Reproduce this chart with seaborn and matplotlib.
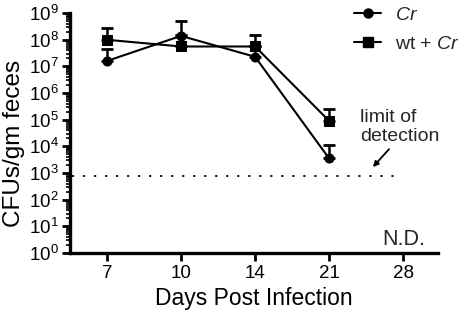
import matplotlib
matplotlib.use("Agg")
import matplotlib.pyplot as plt
import seaborn as sns
import pandas as pd
import numpy as np
from matplotlib.lines import Line2D

days = ["7", "10", "14", "21", "28"]
cr_days = ["7", "10", "14", "21"]
cr_mean = [1.6e7, 1.4e8, 2.3e7, 3.5e3]
cr_upper = [4.4e7, 5.0e8, 6.0e7, 1.1e4]
wt_days = ["7", "10", "14", "21"]
wt_mean = [1.0e8, 5.6e7, 5.6e7, 9.0e4]
wt_upper = [2.7e8, 1.5e8, 1.5e8, 2.5e5]
limit_of_detection = 8e2
series_names = ["Cr", "wt + Cr"]

sns.set_theme(style="ticks")
plt.rcParams['font.family'] = ['Liberation Sans', 'DejaVu Sans']
plt.rcParams['mathtext.fontset'] = 'custom'
plt.rcParams['mathtext.it'] = 'Liberation Sans:italic'
plt.rcParams['mathtext.rm'] = 'Liberation Sans'

fig = plt.figure(figsize=(4.66, 3.13), dpi=100)
ax = fig.add_axes([0.150, 0.192, 0.790, 0.766])

pos = {d: i for i, d in enumerate(days)}
df = pd.DataFrame({
    "x": [pos[d] for d in cr_days] + [pos[d] for d in wt_days],
    "y": cr_mean + wt_mean,
    "upper": cr_upper + wt_upper,
    "series": [series_names[0]] * len(cr_days) + [series_names[1]] * len(wt_days),
})

sns.lineplot(data=df, x="x", y="y", style="series", markers={"Cr": "o", "wt + Cr": "s"},
             dashes=False, color="black", linewidth=1.5, markersize=6.5, ax=ax, legend=False,
             markeredgecolor="black")

for name, sub in df.groupby("series"):
    yerr = np.vstack([np.zeros(len(sub)), sub["upper"].values - sub["y"].values])
    ax.errorbar(sub["x"], sub["y"], yerr=yerr, fmt="none", ecolor="black",
                elinewidth=1.8, capsize=4.5, capthick=2)

ax.plot([-0.47, 3.9], [limit_of_detection, limit_of_detection], color="black",
        linewidth=1.3, linestyle=(0, (1.2, 4.9)))

ax.set_yscale("log")
ax.set_ylim(1, 1e9)
ax.set_xlim(-0.5, 4.47)
ax.set_xticks(range(len(days)))
ax.set_xticklabels(days)
ax.set_yticks([10.0 ** k for k in range(10)])
ax.set_yticklabels([rf"$10^{{{k}}}$" for k in range(10)])
ax.yaxis.set_minor_locator(matplotlib.ticker.LogLocator(base=10, subs=np.arange(2, 10), numticks=20))
ax.yaxis.set_minor_formatter(matplotlib.ticker.NullFormatter())

for s in ["left", "bottom"]:
    ax.spines[s].set_linewidth(2.4)
    ax.spines[s].set_color("black")
ax.spines["top"].set_visible(False)
ax.spines["right"].set_visible(False)
ax.tick_params(axis="both", which="major", direction="out", length=6, width=2, color="black",
               labelsize=13.5, labelcolor="black", pad=2)
ax.tick_params(axis="y", which="minor", direction="out", length=3, width=1.2, color="black")
ax.tick_params(axis="x", which="major", pad=3)

ax.set_xlabel("Days Post Infection", fontsize=16.5, color="black", labelpad=3)
ax.set_ylabel("CFUs/gm feces", fontsize=17.5, color="black")
ax.yaxis.set_label_coords(-0.122, 0.455)

handles = [Line2D([], [], color="black", marker="o", markersize=6.5, linewidth=1.5),
           Line2D([], [], color="black", marker="s", markersize=6.5, linewidth=1.5)]
labels = [r"$\it{Cr}$", r"wt + $\it{Cr}$"]
fig.legend(handles, labels, loc="upper left", bbox_to_anchor=(0.735, 1.018), frameon=False,
           fontsize=14, handlelength=1.4, labelspacing=0.6, handletextpad=0.7,
           borderaxespad=0.2)

ax.text(0.788, 0.525, "limit of\ndetection", transform=ax.transAxes, fontsize=14,
        va="center", ha="left", linespacing=1.15)
ax.annotate("", xy=(0.823, 0.358), xycoords="axes fraction",
            xytext=(0.867, 0.433), textcoords="axes fraction",
            arrowprops=dict(arrowstyle="-|>", color="black", lw=1.3, mutation_scale=8,
                            shrinkA=0, shrinkB=0))
ax.text(0.907, 0.055, "N.D.", transform=ax.transAxes, fontsize=15.5, ha="center", va="center")

fig.savefig("out.png", dpi=100)
